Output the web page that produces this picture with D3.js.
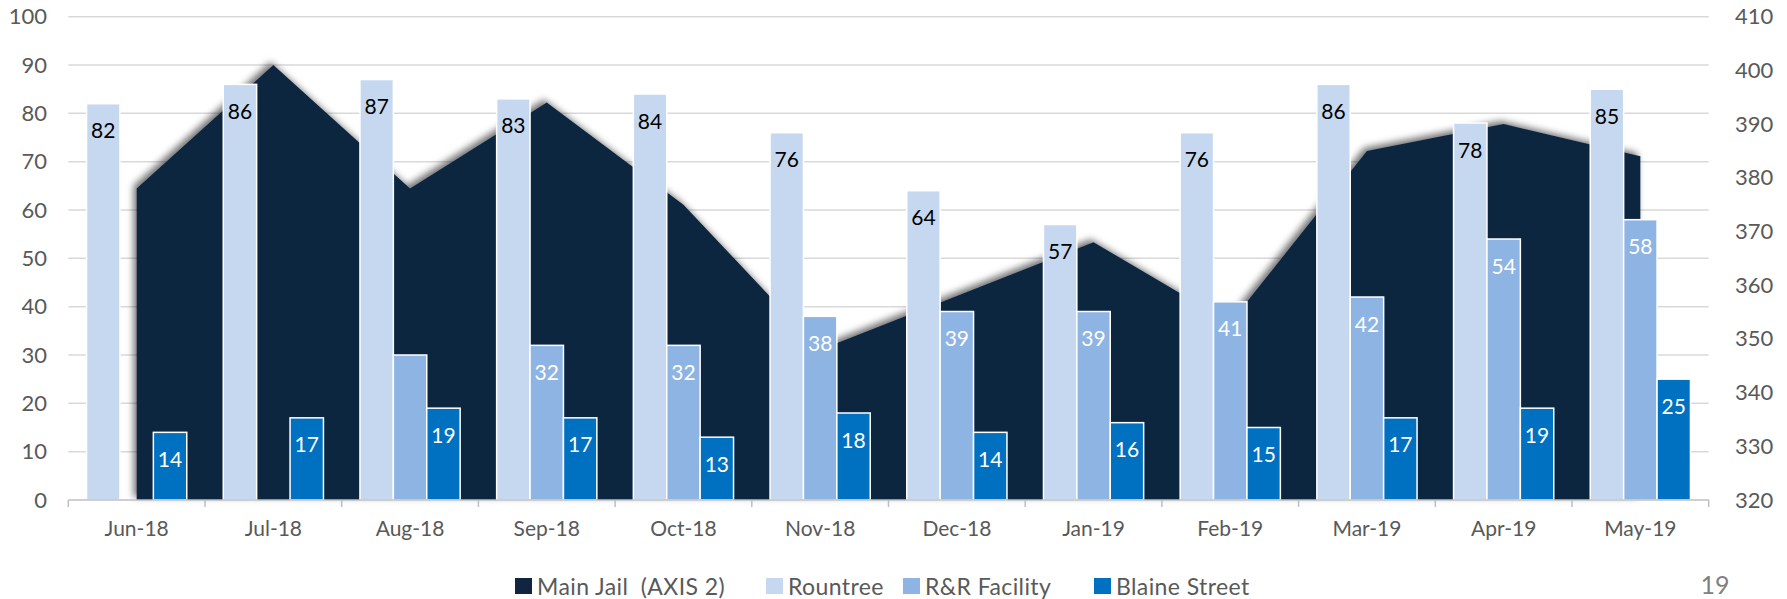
<!DOCTYPE html>
<meta charset="utf-8">
<style>
body { margin: 0; background: #fff; }
text { font-family: Lato, "Open Sans", sans-serif; }
.tick text { fill: #595959; font-size: 21px; }
</style>
<svg width="1787" height="599"></svg>
<script src="https://cdn.jsdelivr.net/npm/d3@7"></script>
<script>

var months = ["Jun-18", "Jul-18", "Aug-18", "Sep-18", "Oct-18", "Nov-18",
              "Dec-18", "Jan-19", "Feb-19", "Mar-19", "Apr-19", "May-19"];
var mainJail = [378, 401, 378, 394, 375, 348, 358, 368, 353, 385, 390, 384];
var rountree = [82, 86, 87, 83, 84, 76, 64, 57, 76, 86, 78, 85];
var rrFacility = [null, null, 30, 32, 32, 38, 39, 39, 41, 42, 54, 58];
var blaine = [14, 17, 19, 17, 13, 18, 14, 16, 15, 17, 19, 25];
var rrHiddenLabels = ["Aug-18"];
var leftTicks = d3.range(0, 101, 10);
var rightTicks = d3.range(320, 411, 10);
var seriesNames = ["Main Jail  (AXIS 2)", "Rountree", "R&R Facility", "Blaine Street"];
var colors = ["#112541", "#c5d8f0", "#8eb4e3", "#0070c0"];

var svg = d3.select("svg");

var x = d3.scaleBand().domain(months).range([68.3, 1708.7]);
var bw = x.bandwidth();
var barKeys = ["Rountree", "R&R Facility", "Blaine Street"];
var x1 = d3.scaleBand().domain(barKeys).range([bw * 0.1335, bw * 0.8665]);
var y = d3.scaleLinear().domain([0, 100]).range([500, 16.7]);
var yR = d3.scaleLinear().domain([320, 410]).range([500, 16.7]);

// gridlines
svg.append("g")
  .selectAll("line")
  .data(leftTicks.slice(1))
  .enter().append("line")
    .attr("x1", 68.3).attr("x2", 1708.7)
    .attr("y1", function(d) { return y(d); })
    .attr("y2", function(d) { return y(d); })
    .attr("stroke", "#d9d9d9")
    .attr("stroke-width", 1.5);

// shadow for the area
var defs = svg.append("defs");
defs.append("filter")
    .attr("id", "shadow")
    .attr("x", "-10%").attr("y", "-20%").attr("width", "120%").attr("height", "140%")
  .append("feDropShadow")
    .attr("dx", -3).attr("dy", -3)
    .attr("stdDeviation", 3.5)
    .attr("flood-color", "#000")
    .attr("flood-opacity", 0.55);

var area = d3.area()
    .x(function(d, i) { return x(months[i]) + bw / 2; })
    .y0(yR(320))
    .y1(function(d) { return yR(d); });

svg.append("path")
    .datum(mainJail)
    .attr("d", area)
    .attr("fill", colors[0])
    .attr("filter", "url(#shadow)");

// bars
var barData = [];
months.forEach(function(m, i) {
  [rountree, rrFacility, blaine].forEach(function(arr, k) {
    if (arr[i] != null) barData.push({ month: m, key: barKeys[k], value: arr[i], k: k });
  });
});

svg.append("g")
  .selectAll("rect")
  .data(barData)
  .enter().append("rect")
    .attr("x", function(d) { return x(d.month) + x1(d.key); })
    .attr("y", function(d) { return y(d.value); })
    .attr("width", x1.bandwidth())
    .attr("height", function(d) { return y(0) - y(d.value); })
    .attr("fill", function(d) { return colors[d.k + 1]; })
    .attr("stroke", "#fff")
    .attr("stroke-width", 1.5);

svg.append("g")
  .selectAll("text")
  .data(barData.filter(function(d) {
    return !(d.key == "R&R Facility" && rrHiddenLabels.indexOf(d.month) >= 0);
  }))
  .enter().append("text")
    .attr("x", function(d) { return x(d.month) + x1(d.key) + x1.bandwidth() / 2; })
    .attr("y", function(d) { return y(d.value) + 26; })
    .attr("text-anchor", "middle")
    .attr("dominant-baseline", "central")
    .attr("font-size", 21)
    .attr("fill", function(d) { return d.k == 0 ? "#000" : "#fff"; })
    .text(function(d) { return d.value; });

// axes
svg.append("g")
    .attr("transform", "translate(47,0)")
    .call(d3.axisLeft(y).tickValues(leftTicks).tickSize(0).tickPadding(0))
    .call(function(g) { g.select(".domain").remove(); })
    .selectAll("text").style("font-size", "22px");

svg.append("g")
    .attr("transform", "translate(1735,0)")
    .call(d3.axisRight(yR).tickValues(rightTicks).tickSize(0).tickPadding(0))
    .call(function(g) { g.select(".domain").remove(); })
    .selectAll("text").style("font-size", "22px");

var bottom = svg.append("g")
    .attr("transform", "translate(0,500)")
    .call(d3.axisBottom(x).tickSize(0).tickPadding(21))
    .call(function(g) { g.select(".domain").remove(); });

bottom.append("line")
    .attr("x1", 68.3).attr("x2", 1708.7)
    .attr("stroke", "#bfbfbf").attr("stroke-width", 1.5);

bottom.selectAll(".sep")
  .data(months.concat(["end"]))
  .enter().append("line")
    .attr("x1", function(d) { return d == "end" ? 1708.7 : x(d); })
    .attr("x2", function(d) { return d == "end" ? 1708.7 : x(d); })
    .attr("y1", 0).attr("y2", 7)
    .attr("stroke", "#bfbfbf").attr("stroke-width", 1.5);

// legend
var legendX = [515, 766, 903, 1094];
var legend = svg.append("g")
  .selectAll("g")
  .data(seriesNames)
  .enter().append("g")
    .attr("transform", function(d, i) { return "translate(" + legendX[i] + ",586)"; });

legend.append("rect")
    .attr("x", 0).attr("y", -8)
    .attr("width", 17).attr("height", 16)
    .attr("fill", function(d, i) { return colors[i]; });

legend.append("text")
    .attr("x", 22)
    .attr("dominant-baseline", "central")
    .attr("font-size", 23)
    .attr("letter-spacing", 0.4)
    .attr("fill", "#595959")
    .style("white-space", "pre")
    .text(function(d) { return d; });

svg.append("text")
    .attr("x", 1715).attr("y", 594)
    .attr("text-anchor", "middle")
    .attr("font-size", 25)
    .attr("fill", "#808080")
    .text("19");

</script>
